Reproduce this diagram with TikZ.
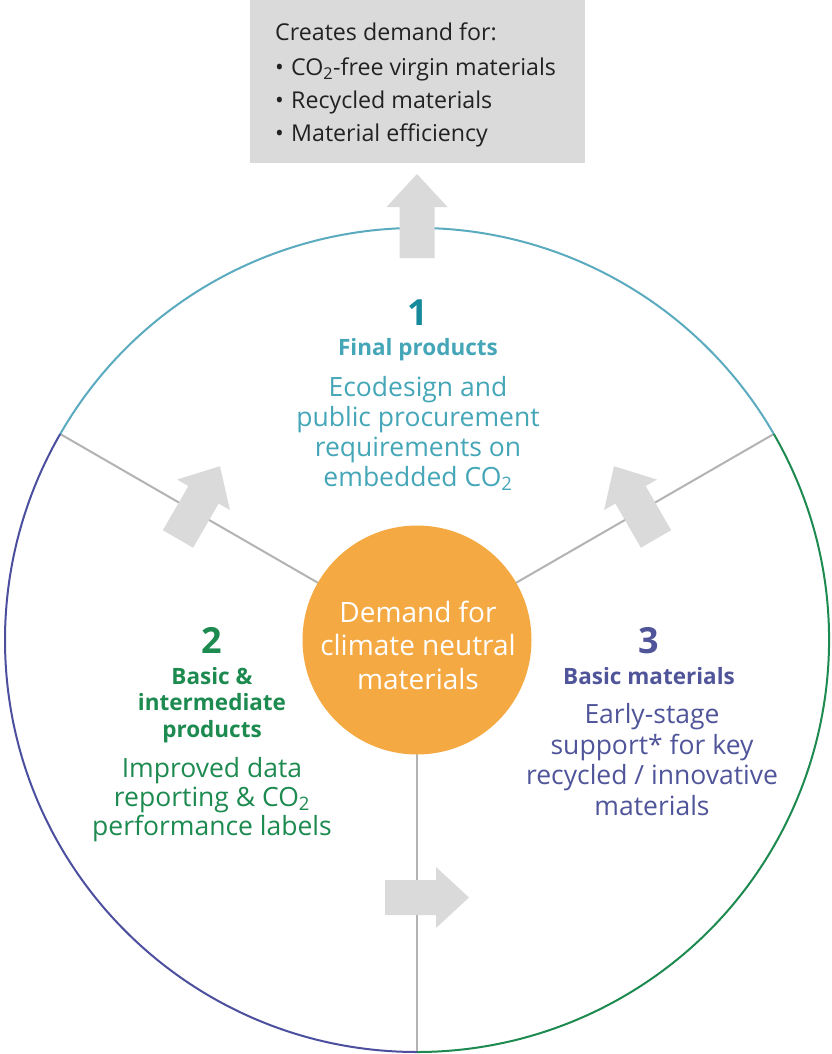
\documentclass[tikz,border=0pt]{standalone}
\usepackage{fontspec}
\setmainfont{Open Sans}
\usetikzlibrary{calc}
\definecolor{boxgray}{HTML}{DADADA}
\definecolor{linegray}{HTML}{B3B3B3}
\definecolor{orangec}{HTML}{F5A942}
\definecolor{tealc}{HTML}{45A6B8}
\definecolor{tealdark}{HTML}{16899B}
\definecolor{tealarc}{HTML}{5AABBF}
\definecolor{greenc}{HTML}{1D8A50}
\definecolor{purplec}{HTML}{50559A}
\definecolor{purplearc}{HTML}{4B4F9E}
\definecolor{textdark}{HTML}{222222}
\tikzset{
  arc line/.style={line width=2pt},
  spoke/.style={draw=linegray, line width=2pt},
  flowarrow/.style={fill=boxgray, draw=none},
  txt/.style={inner sep=0pt, outer sep=0pt, align=center},
  boxtxt/.style={inner sep=0pt, anchor=base west, text=textdark, font=\fontsize{23.2}{26}\selectfont},
  digit/.style={txt, anchor=base, font=\fontsize{36}{40}\selectfont\bfseries},
  head/.style={txt, anchor=base, font=\fontsize{22.5}{26.5}\selectfont\bfseries},
  body/.style={txt, anchor=base, font=\fontsize{26.5}{30}\selectfont},
}
\newcommand{\flowshape}{(-32,-17.5) -- (19,-17.5) -- (19,-30.5) -- (52,0) -- (19,30.5) -- (19,17.5) -- (-32,17.5) -- cycle}
\newcommand{\bul}{\makebox[16pt][l]{\textbullet}}
\begin{document}
\begin{tikzpicture}[x=1pt,y=-1pt]
\useasboundingbox (0,0) rectangle (831,1054);
\coordinate (c) at (417,640);
% top box
\fill[boxgray] (250,0) rectangle (585,163);
\node[boxtxt] (b0) at (275,41) {Creates demand for:};
\node[boxtxt] (b1) at (275,75.5) {\bul CO\textsubscript{2}-free virgin materials};
\node[boxtxt] (b2) at (275,109) {\bul Recycled materials};
\node[boxtxt] (b3) at (275,142) {\bul Material efficiency};
% spokes
\coordinate (jl) at ($(c)+(210:412)$);
\coordinate (jr) at ($(c)+(-30:412)$);
\coordinate (jb) at ($(c)+(90:412)$);
\draw[spoke] (c) -- (jl);
\draw[spoke] (c) -- (jr);
\draw[spoke] (c) -- (jb);
% outer arcs
\draw[arc line, tealarc] (jl) arc[start angle=210, end angle=330, radius=412];
\draw[arc line, greenc] (jr) arc[start angle=-30, end angle=90, radius=412];
\draw[arc line, purplearc] (jb) arc[start angle=90, end angle=210, radius=412];
% arrows
\fill[flowarrow, shift={($(c)+(270:414)$)}, rotate=90] \flowshape;
\fill[flowarrow, shift={($(c)+(90:257.5)$)}, rotate=0] \flowshape;
\fill[flowarrow, shift={($(c)+(210:257.5)$)}, rotate=60] \flowshape;
\fill[flowarrow, shift={($(c)+(-30:257.5)$)}, rotate=120] \flowshape;
% centre
\node[circle, fill=orangec, minimum size=229pt, inner sep=0pt] (hub) at (c) {};
\node[body, text=white, font=\fontsize{28}{33.5}\selectfont] (hubtxt) at (418,689) {Demand for\\climate neutral\\materials};
% section 1
\node[digit, text=tealdark] (n1) at (418,325) {1};
\node[head, text=tealc] (h1) at (418,355) {Final products};
\node[body, text=tealc] (t1) at (418,486) {Ecodesign and\\public procurement\\requirements on\\embedded CO\textsubscript{2}};
% section 2
\node[digit, text=greenc] (n2) at (212,653) {2};
\node[head, text=greenc] (h2) at (212,737) {Basic \&\\intermediate\\products};
\node[body, text=greenc, font=\fontsize{26.5}{29}\selectfont] (t2) at (212,835) {Improved data\\reporting \& CO\textsubscript{2}\\performance labels};
% section 3
\node[digit, text=purplec] (n3) at (649,653) {3};
\node[head, text=purplec] (h3) at (649,684) {Basic materials};
\node[body, text=purplec, font=\fontsize{26.5}{30.5}\selectfont] (t3) at (652,815) {Early-stage\\support* for key\\recycled / innovative\\materials};
\end{tikzpicture}
\end{document}
